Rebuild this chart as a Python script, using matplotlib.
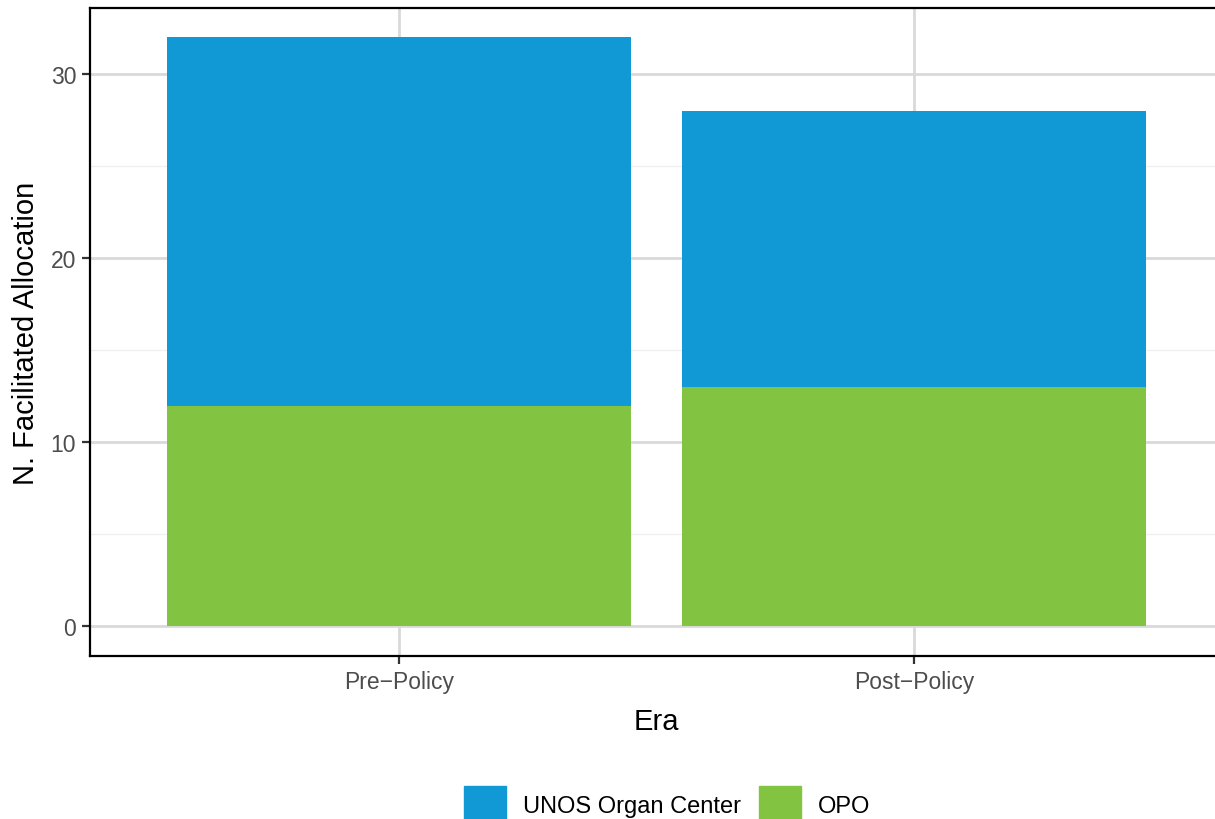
import numpy as np
import matplotlib.pyplot as plt
from matplotlib.patches import Patch
from matplotlib.ticker import MultipleLocator

plt.rcParams['font.family'] = ['Liberation Sans', 'DejaVu Sans']

eras = ["Pre\u2212Policy", "Post\u2212Policy"]
opo = np.array([12, 13])
unos = np.array([20, 15])

blue = "#1199D6"
green = "#82C341"

fig = plt.figure(figsize=(12.15, 8.2), dpi=100)
# panel runs slightly past the right edge of the figure, as in the original
ax = fig.add_axes([0.0741, 0.199, 0.9325, 0.790])

x = np.arange(1, len(eras) + 1)
ax.bar(x, opo, width=0.9, color=green, zorder=3)
ax.bar(x, unos, width=0.9, bottom=opo, color=blue, zorder=3)

ax.set_xlim(0.4, 2.6)
ax.set_ylim(-1.6, 33.6)
ax.set_xticks(x)
ax.set_xticklabels(eras)
ax.yaxis.set_major_locator(MultipleLocator(10))
ax.yaxis.set_minor_locator(MultipleLocator(5))
ax.tick_params(axis='y', which='minor', length=0)

ax.grid(which='major', color='#D9D9D9', linewidth=2.0, zorder=0)
ax.grid(which='minor', axis='y', color='#F0F0F0', linewidth=1.0, zorder=0)
for s in ax.spines.values():
    s.set_color('black')
    s.set_linewidth(1.6)

ax.tick_params(which='major', length=6, width=1.6, color='#333333',
               labelsize=16.5, labelcolor='#4D4D4D', pad=4)

ax.set_xlabel("Era", fontsize=21, labelpad=10)
ax.set_ylabel("N. Facilitated Allocation", fontsize=21, labelpad=8)

handles = [Patch(color=blue, label="UNOS Organ Center"),
           Patch(color=green, label="OPO")]
fig.legend(handles=handles, loc='center', bbox_to_anchor=(0.549, 0.017),
           ncol=2, frameon=False, fontsize=17, handlelength=1.8,
           handleheight=2.1, handletextpad=0.7, columnspacing=0.75)

fig.savefig("out.png", dpi=100)
